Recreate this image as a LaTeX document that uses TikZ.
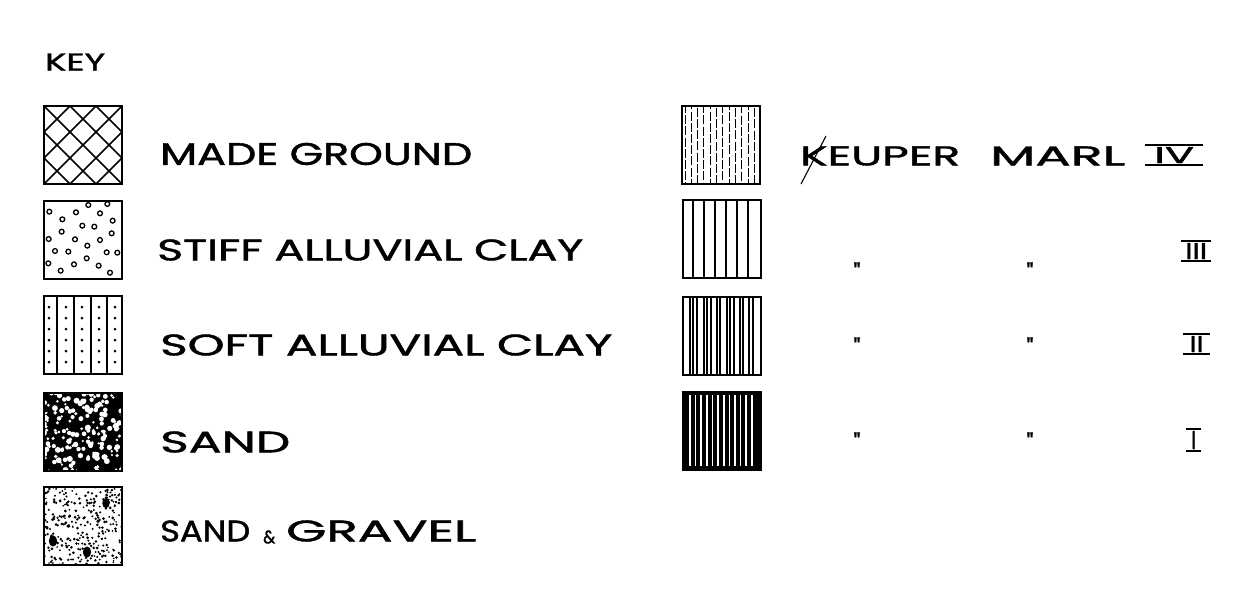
\documentclass[tikz,border=0pt]{standalone}
\usepackage{fontspec}
\newfontfamily\hand{Poppins}[FakeBold=1.3]
\usepackage{graphicx}
\newcommand\fitbox[3]{\resizebox{#1pt}{#2pt}{\hand #3}}
\newcommand\rn[4]{\vbox{\hrule height 2.6pt\kern0.6pt\hbox to #1pt{\hss\fitbox{#2}{#3}{#4}\hss}\kern0.6pt\hrule height 2.6pt}}
\newcommand\dit{{\hand\fontsize{24}{24}\selectfont "}}
\tikzset{
  swatch/.style={draw=black, line width=2.4pt, minimum width=78pt, minimum height=78pt,
    inner sep=0pt, anchor=north west},
  lbl/.style={anchor=west, inner sep=0pt, text=black},
  ditto/.style={inner sep=0pt, text=black},
}
% #1 x, #2 y, #3 pattern code in local coordinates (0..78, y downwards)
\newcommand\pat[3]{\begin{scope}[shift={(#1,#2)}]
  \clip (0,0) rectangle (78,78);
  #3
\end{scope}}
\begin{document}
\begin{tikzpicture}[x=1pt,y=-1pt]
\useasboundingbox[fill=white] (0,0) rectangle (1247,594);

% ---------- title
\node[lbl] (key) at (45,62) {\fitbox{60}{17}{KEY}};

% ---------- left column patterns
\pat{43}{105}{
  \foreach \c in {-104,-78,...,104} {
    \draw[line width=1.6pt] (\c,0) -- ++(80,80);
    \draw[line width=1.6pt] (\c,80) -- ++(80,-80);
  }}
\pat{43}{200}{
  \foreach \a/\b in {265/75,148/95,228/97,300/100,322/72,187/118,338/122,247/137,283/140,
                     185/155,335/160,146/177,225/178,300/180,262/197,165/213,205/215,
                     320/217,352/218,260/235,145/250,222/253,296/257,182/272,330/278}
    \draw[line width=1.3pt] ({\a/3-43},{\b/3-20}) circle (2.4pt);}
\pat{43}{295}{
  \foreach \v in {14,31,48,64}
    \draw[line width=1.8pt] (\v,0) -- (\v,80);
  \foreach \u in {6,23,39,56,72}
    \foreach \w in {12,23,34,45,56,67}
      \fill (\u,\w) circle (1.5pt);}
\pat{43}{392}{
  \fill[black] (-2,-2) rectangle (82,82);
  \pgfmathsetseed{11}
  \foreach \i in {1,...,190} {
    \pgfmathsetmacro\xx{80*rnd}
    \pgfmathsetmacro\yy{80*rnd}
    \pgfmathsetmacro\rr{1.1+1.9*rnd}
    \fill[white] (\xx,\yy) circle (\rr pt);
  }}
\pat{43}{486}{
  \pgfmathsetseed{5}
  \foreach \i in {1,...,330} {
    \pgfmathsetmacro\xx{80*rnd}
    \pgfmathsetmacro\yy{80*rnd}
    \pgfmathsetmacro\rr{0.9+0.6*rnd}
    \fill[black] (\xx,\yy) circle (\rr pt);
  }
  \filldraw[black, line width=1pt] (63,17) ellipse (3.2pt and 4.5pt);
  \filldraw[black, line width=1pt] (10,55) ellipse (3.6pt and 5pt);
  \filldraw[black, line width=1pt] (44,66) ellipse (3.6pt and 5pt);}

% ---------- left column boxes
\node[swatch] (made)   at (43,105) {};
\node[swatch] (stiff)  at (43,200) {};
\node[swatch] (soft)   at (43,295) {};
\node[swatch] (sand)   at (43,392) {};
\node[swatch] (gravel) at (43,486) {};

% ---------- left labels
\node[lbl] (lmade)   at (160,154) {\fitbox{312}{22}{MADE GROUND}};
\node[lbl] (lstiff)  at (157,250) {\fitbox{426}{21}{STIFF ALLUVIAL CLAY}};
\node[lbl] (lsoft)   at (160,345) {\fitbox{452}{21}{SOFT ALLUVIAL CLAY}};
\node[lbl] (lsand)   at (160,442) {\fitbox{130}{21}{SAND}};
\node[lbl] (lgravel) at (160,532) {\fitbox{90}{21}{SAND}\hspace{13pt}\raisebox{-2pt}{\fitbox{12}{13}{\&}}\hspace{11pt}\fitbox{190}{21}{GRAVEL}};

% ---------- right column patterns
\pat{681}{105}{
  \foreach \k in {0,...,11}
    \draw[line width=1.0pt, dash pattern=on 9pt off 2.2pt, dash phase=\k*3.7pt]
      ({4+6.3*\k},-1) -- ({4+6.3*\k},81);}
\pat{682}{199}{
  \foreach \v in {11,22,33,44,55,66}
    \draw[line width=1.7pt] (\v,0) -- (\v,80);}
\pat{682}{296}{
  \foreach \v in {8,11,15,22,25,29,35,38,45,48,52,58,61,67,71}
    \draw[line width=1.1pt] (\v,0) -- (\v,80);}
\pat{682}{391}{
  \fill[black] (-2,-2) rectangle (82,82);
  \foreach \v in {8,13.5,19,25,30.5,36,42,47.5,53,58.5,64,70}
    \draw[white, line width=1.4pt] (\v,4) -- (\v,75);}

% ---------- right column boxes
\node[swatch] (k4) at (681,105) {};
\node[swatch] (k3) at (682,199) {};
\node[swatch] (k2) at (682,296) {};
\node[swatch] (k1) at (682,391) {};

% ---------- right labels
\node[lbl] (lk4) at (800,156) {\fitbox{160}{19}{KEUPER}\hspace{30pt}\fitbox{135}{19}{MARL}};
\draw[line width=1.1pt] (801,184) -- (826,136);
\node[lbl] (n4) at (1145,155) {\rn{58}{40}{16}{IV}};

\node[ditto] (d3a) at (857,272) {\dit};
\node[ditto] (d3b) at (1030,272) {\dit};
\node[lbl] (n3) at (1181,251) {\rn{30}{22}{16}{III}};

\node[ditto] (d2a) at (857,347) {\dit};
\node[ditto] (d2b) at (1030,347) {\dit};
\node[lbl] (n2) at (1183,344) {\rn{27}{14}{16}{II}};

\node[ditto] (d1a) at (857,442) {\dit};
\node[ditto] (d1b) at (1030,442) {\dit};
\node[lbl] (n1) at (1186,440) {\rn{15}{5}{18}{I}};
\end{tikzpicture}
\end{document}
